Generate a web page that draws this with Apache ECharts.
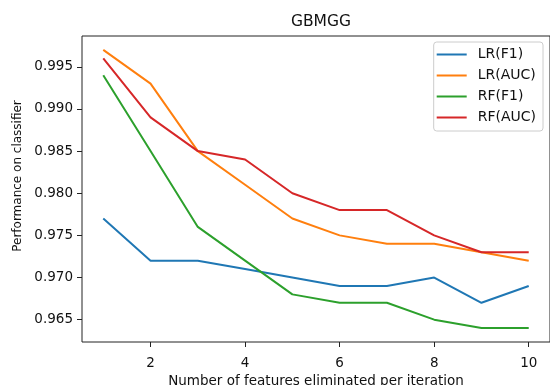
<!DOCTYPE html>
<html><head><meta charset="utf-8">
<script src="https://cdn.jsdelivr.net/npm/echarts@6/dist/echarts.min.js"></script>
<style>html,body{margin:0;padding:0;background:#fff}#c{width:550px;height:385px}</style>
</head><body><div id="c"></div>
<script>
var xValues = [1, 2, 3, 4, 5, 6, 7, 8, 9, 10];
var lrF1  = [0.977, 0.972, 0.972, 0.971, 0.970, 0.969, 0.969, 0.970, 0.967, 0.969];
var lrAUC = [0.997, 0.993, 0.985, 0.981, 0.977, 0.975, 0.974, 0.974, 0.973, 0.972];
var rfF1  = [0.994, 0.985, 0.976, 0.972, 0.968, 0.967, 0.967, 0.965, 0.964, 0.964];
var rfAUC = [0.996, 0.989, 0.985, 0.984, 0.980, 0.978, 0.978, 0.975, 0.973, 0.973];
var seriesNames = ['LR(F1)', 'LR(AUC)', 'RF(F1)', 'RF(AUC)'];
var xTicks = [2, 4, 6, 8, 10];
var yTicks = [0.965, 0.970, 0.975, 0.980, 0.985, 0.990, 0.995];
var colors = ['#1f77b4', '#ff7f0e', '#2ca02c', '#d62728'];

var font = 'DejaVu Sans';
function pairs(ys){ return xValues.map(function(x,i){ return [x, ys[i]]; }); }
var allData = [lrF1, lrAUC, rfF1, rfAUC];

var chart = echarts.init(document.getElementById('c'));
chart.setOption({
  animation: false,
  color: colors,
  title: { text: 'GBMGG', left: 316, top: 9, textAlign: 'center',
    textStyle: { fontFamily: font, fontSize: 15.5, fontWeight: 'normal', color: '#111' } },
  grid: { left: 82, right: 0, top: 36, bottom: 43, show: true, borderColor: '#222', borderWidth: 1,
    containLabel: false, outerBoundsMode: 'none' },
  legend: {
    data: seriesNames, orient: 'vertical', right: 7, top: 42,
    icon: 'path://M0,0H30V2H0Z M36,0L36,2', itemWidth: 36, itemHeight: 2, itemGap: 6,
    padding: [5, 7, 6, 3],
    borderColor: '#ccc', borderWidth: 1, borderRadius: 3, backgroundColor: 'rgba(255,255,255,0.8)',
    textStyle: { fontFamily: font, fontSize: 14, color: '#111', lineHeight: 15 }
  },
  xAxis: {
    type: 'value', min: 0.55, max: 10.45,
    name: 'Number of features eliminated per iteration', nameLocation: 'middle', nameGap: 32,
    nameTextStyle: { fontFamily: font, fontSize: 13.5, color: '#111' },
    axisLine: { show: false }, splitLine: { show: false },
    axisTick: { show: true, customValues: xTicks, length: 5, inside: false, lineStyle: { color: '#222' } },
    axisLabel: { customValues: xTicks, fontFamily: font, fontSize: 13.5, color: '#111', margin: 14 }
  },
  yAxis: {
    type: 'value', min: 0.96235, max: 0.99865,
    name: 'Performance on classifier', nameLocation: 'middle', nameGap: 58,
    nameTextStyle: { fontFamily: font, fontSize: 12, color: '#111', padding: [0, 0, 0, 26] },
    axisLine: { show: false }, splitLine: { show: false },
    axisTick: { show: true, customValues: yTicks, length: 5, lineStyle: { color: '#222' } },
    axisLabel: { customValues: yTicks, fontFamily: font, fontSize: 13.5, color: '#111', margin: 9,
      formatter: function(v){ return v.toFixed(3); } }
  },
  series: seriesNames.map(function(n, i){
    return { name: n, type: 'line', data: pairs(allData[i]), showSymbol: false, symbol: 'none',
      lineStyle: { width: 2, color: colors[i] }, itemStyle: { color: colors[i] } };
  })
});
</script></body></html>
